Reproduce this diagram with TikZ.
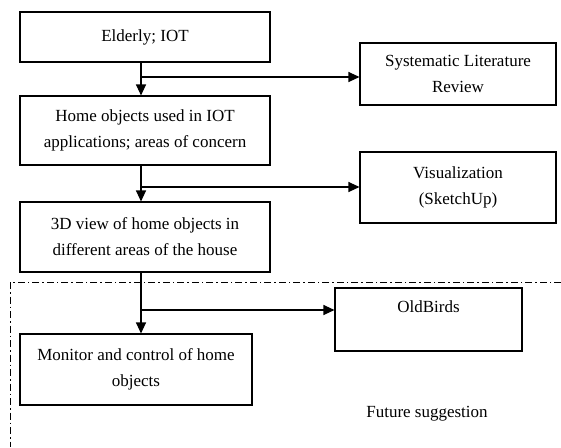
\documentclass[tikz,border=0pt]{standalone}
\usepackage{fontspec}
\setmainfont{Liberation Serif}
\usetikzlibrary{arrows.meta, positioning}
\begin{document}
\begin{tikzpicture}[x=1pt, y=-1pt,
    blocco/.style={draw, line width=1.1pt, align=center, inner sep=0pt, font=\fontsize{17}{26}\selectfont},
    freccia/.style={line width=1.1pt, -{Triangle[length=11pt, width=10pt]}},
    tratto/.style={line width=0.7pt, dash pattern=on 7pt off 3pt on 1.5pt off 3pt}]
    % Parametri
    \pgfmathsetmacro{\xt}{141}
    \useasboundingbox (0,0) rectangle (561,447);
    % Blocchi
    \node[blocco, minimum width=250pt, minimum height=50pt] (elderly) at (145,37) {Elderly; IOT};
    \node[blocco, minimum width=250pt, minimum height=69pt] (home) at (145,130.5) {Home objects used in IOT\\applications; areas of concern};
    \node[blocco, minimum width=250pt, minimum height=70pt] (view) at (145,237) {3D view of home objects in\\different areas of the house};
    \node[blocco, minimum width=232pt, minimum height=71pt] (monitor) at (136,369.5) {Monitor and control of home\\objects};
    \node[blocco, minimum width=196pt, minimum height=62pt] (slr) at (458,74) {Systematic Literature\\Review};
    \node[blocco, minimum width=196pt, minimum height=71pt] (vis) at (458,187.5) {Visualization\\(SketchUp)};
    \node[blocco, minimum width=187pt, minimum height=63pt] (oldbirds) at (428.5,319.5) {OldBirds\\\mbox{}};
    \node[font=\fontsize{17}{26}\selectfont] (futuro) at (427,414) {Future suggestion};
    % Frecce
    \coordinate (b1) at (\xt,77);
    \coordinate (b2) at (\xt,187);
    \coordinate (b3) at (\xt,310);
    \draw[freccia] (elderly.south -| b1) -- (home.north -| b1);
    \draw[freccia] (b1) -- (slr.west |- b1);
    \draw[freccia] (home.south -| b2) -- (view.north -| b2);
    \draw[freccia] (b2) -- (vis.west |- b2);
    \draw[freccia] (view.south -| b3) -- (monitor.north -| b3);
    \draw[freccia] (b3) -- (oldbirds.west |- b3);
    % Zona futura
    \draw[tratto] (561,282) -- (10,282) -- (10,447);
\end{tikzpicture}
\end{document}
